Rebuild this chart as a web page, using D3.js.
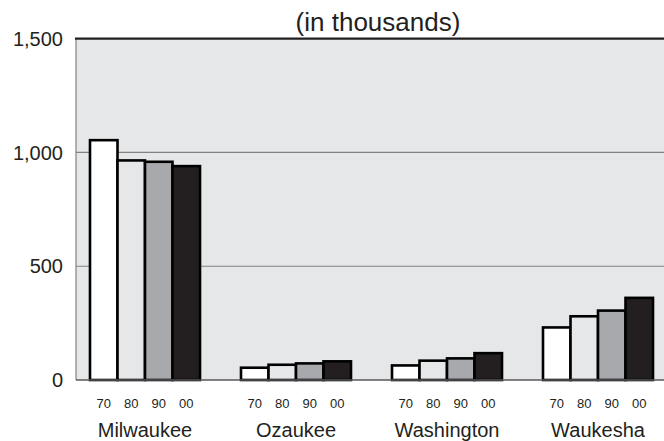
<!DOCTYPE html>
<html>
<head>
<meta charset="utf-8">
<script src="https://cdn.jsdelivr.net/npm/d3@7"></script>
<style>
  html, body { margin: 0; padding: 0; background: #fff; }
  svg { display: block; font-family: "Liberation Sans", Arial, Helvetica, sans-serif; }
</style>
</head>
<body>
<svg id="chart" width="664" height="441"></svg>
<script>
const counties = ["Milwaukee", "Ozaukee", "Washington", "Waukesha"];
const years = ["70", "80", "90", "00"];
const v1970 = [1054, 54, 64, 231];
const v1980 = [965, 67, 85, 280];
const v1990 = [959, 73, 95, 305];
const v2000 = [940, 82, 118, 361];
const yTicks = [0, 500, 1000, 1500];
const yearColors = ["#ffffff", "#e6e7e8", "#a7a9ac", "#231f20"];
const title = "(in thousands)";

const seriesVals = [v1970, v1980, v1990, v2000];
const data = counties.map((c, i) => ({
  county: c,
  values: years.map((yr, j) => ({ year: yr, idx: j, value: seriesVals[j][i] }))
}));

const svg = d3.select("#chart");
const mLeft = 76, mRight = 667, mTop = 38.7, mBottom = 380;

const x = d3.scaleBand().domain(counties).range([mLeft, mRight])
  .paddingInner(0.2715).paddingOuter(0.0927);
const xs = d3.scaleBand().domain(years).range([0, x.bandwidth()]).padding(0);
const y = d3.scaleLinear().domain([0, 1500]).range([mBottom, mTop]);

// background
svg.append("rect").attr("x", mLeft).attr("y", mTop).attr("width", 664 - mLeft).attr("height", mBottom - mTop)
  .attr("fill", "#e6e7e8");

// gridlines
svg.append("g").selectAll("line").data(yTicks.filter(t => t > 0 && t < 1500)).join("line")
  .attr("x1", mLeft).attr("x2", 664).attr("y1", d => y(d)).attr("y2", d => y(d))
  .attr("stroke", "#808285").attr("stroke-width", 1.2);

// left axis line
svg.append("line").attr("x1", mLeft).attr("x2", mLeft).attr("y1", mTop).attr("y2", mBottom)
  .attr("stroke", "#808285").attr("stroke-width", 1.2);

// y tick labels
svg.append("g").selectAll("text").data(yTicks).join("text")
  .attr("x", 63).attr("y", d => y(d)).attr("dy", "0.36em")
  .attr("text-anchor", "end").attr("font-size", 20).attr("fill", "#231f20")
  .text(d => d3.format(",")(d));

// bars
const groups = svg.append("g").selectAll("g").data(data).join("g")
  .attr("transform", d => `translate(${x(d.county)},0)`);
groups.selectAll("rect").data(d => d.values).join("rect")
  .attr("x", d => xs(d.year)).attr("width", xs.bandwidth())
  .attr("y", d => y(d.value)).attr("height", d => y(0) - y(d.value))
  .attr("fill", d => yearColors[d.idx]).attr("stroke", "#000").attr("stroke-width", 2.6);

// baseline
svg.append("line").attr("x1", mLeft).attr("x2", 664).attr("y1", mBottom).attr("y2", mBottom)
  .attr("stroke", "#58595b").attr("stroke-width", 1.5);

// top border
svg.append("line").attr("x1", mLeft - 1).attr("x2", 664).attr("y1", mTop).attr("y2", mTop)
  .attr("stroke", "#231f20").attr("stroke-width", 2.2);

// year labels
groups.selectAll("text.yr").data(d => d.values).join("text").attr("class", "yr")
  .attr("x", d => xs(d.year) + xs.bandwidth() / 2).attr("y", 408)
  .attr("text-anchor", "middle").attr("font-size", 13).attr("fill", "#231f20")
  .text(d => d.year);

// county labels
groups.append("text")
  .attr("x", x.bandwidth() / 2).attr("y", 437)
  .attr("text-anchor", "middle").attr("font-size", 20).attr("fill", "#231f20")
  .text(d => d.county);

// title
svg.append("text").attr("x", 378).attr("y", 31).attr("text-anchor", "middle")
  .attr("font-size", 26).attr("fill", "#231f20").text(title);
</script>
</body>
</html>
